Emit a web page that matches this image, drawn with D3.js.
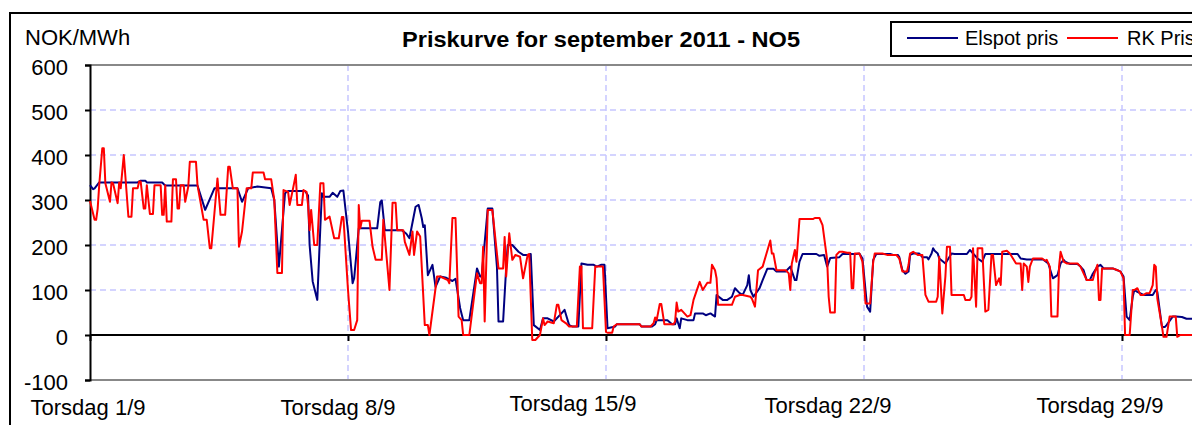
<!DOCTYPE html>
<html>
<head>
<meta charset="utf-8">
<title>Priskurve for september 2011 - NO5</title>
<script src="https://d3js.org/d3.v7.min.js"></script>
<style>
	html, body { margin: 0; padding: 0; background: #fff; }
	svg { display: block; font-family: "Liberation Sans", Arial, sans-serif; }
</style>
</head>
<body>
<div id="chart"></div>
<script>
// Hourly prices for september 2011 as [hour, NOK/MWh]
// hour 0 = 1/9 00:00, 720 = end of 30/9
const elspotPris = [
	[0,333],[2,324],[3,326],[6,339],[31,339],[33,343],[36,343],[37,339],[47,339],[49,332],[70,332],[75,278],
	[81,326],[96,326],[99,296],[103,326],[109,330],[118,326],[120,300],[123,152],[127,315],[129,320],[140,320],
	[142,310],[143,200],[145,119],[148,78],[150,240],[151,315],[152,307],[156,307],[158,316],[161,307],[163,320],
	[165,321],[168,230],[171,115],[172,126],[174,200],[175,237],[187,237],[189,295],[190,299],[192,233],[203,233],
	[206,225],[208,215],[212,285],[214,289],[216,260],[217,240],[218,244],[220,133],[223,156],[225,107],[228,130],
	[232,127],[236,120],[238,125],[241,60],[243,33],[247,33],[252,148],[254,130],[255,130],[259,281],[262,281],
	[265,150],[266,30],[269,30],[271,150],[272,200],[275,200],[279,185],[282,178],[285,178],[287,180],[289,22],
	[293,11],[295,37],[298,37],[302,30],[307,48],[309,56],[312,22],[314,19],[318,19],[320,159],[324,156],[328,156],
	[330,152],[333,156],[335,156],[337,15],[342,19],[343,24],[358,24],[359,19],[366,19],[368,24],[369,33],[376,33],
	[379,24],[381,24],[382,37],[384,15],[385,37],[389,33],[393,33],[394,48],[399,48],[401,44],[404,48],[407,41],
	[408,89],[412,78],[415,78],[418,85],[420,104],[423,93],[425,89],[428,111],[429,133],[430,100],[432,85],[436,104],
	[438,122],[441,147],[445,147],[447,141],[453,141],[456,152],[459,122],[460,122],[462,163],[464,180],[473,180],
	[475,176],[478,178],[480,152],[482,171],[488,173],[490,180],[499,180],[501,181],[503,170],[506,63],[508,52],
	[510,167],[512,180],[521,180],[523,178],[526,178],[527,173],[529,144],[531,136],[533,141],[534,178],[536,181],
	[540,181],[542,173],[545,173],[546,168],[548,181],[549,193],[550,187],[552,181],[553,170],[557,159],[559,170],
	[561,181],[563,180],[571,180],[573,189],[575,181],[578,170],[581,163],[583,180],[604,180],[606,170],[610,168],
	[620,168],[621,167],[624,159],[627,126],[630,133],[632,159],[634,167],[635,163],[638,158],[643,158],[645,152],
	[647,144],[649,122],[651,122],[653,136],[656,152],[658,156],[660,148],[666,148],[669,144],[671,141],[673,130],
	[675,41],[677,33],[679,85],[680,100],[682,96],[686,89],[692,89],[694,100],[695,96],[698,18],[700,18],[701,22],
	[705,41],[707,41],[711,40],[714,36],[720,36]
];

const rkPris = [
	[0,298],[3,256],[4,256],[5,281],[6,333],[8,415],[9,415],[10,337],[13,296],[14,339],[15,337],[18,293],[19,339],
	[20,326],[22,400],[25,263],[27,263],[28,326],[31,326],[32,341],[33,341],[35,281],[36,281],[37,333],[39,269],
	[41,269],[42,333],[46,333],[47,267],[48,267],[49,333],[50,252],[53,252],[54,346],[56,346],[57,281],[58,281],
	[59,333],[61,333],[62,296],[64,330],[65,385],[69,385],[70,333],[74,256],[76,256],[78,193],[79,193],[81,270],
	[83,348],[85,267],[88,267],[90,374],[91,374],[93,326],[96,326],[97,196],[99,230],[102,326],[105,326],[106,361],
	[113,361],[114,346],[118,346],[120,300],[122,138],[125,138],[126,322],[129,318],[130,289],[132,322],[134,356],
	[135,289],[138,289],[139,322],[141,318],[142,289],[143,233],[144,278],[146,200],[148,200],[150,337],[152,337],
	[153,256],[156,263],[159,215],[162,215],[164,262],[165,262],[168,100],[170,11],[172,11],[174,33],[175,289],
	[176,237],[177,254],[182,254],[184,196],[186,167],[190,167],[191,256],[195,100],[197,294],[199,294],[200,233],
	[204,233],[205,207],[208,178],[210,230],[211,178],[213,230],[215,219],[218,22],[220,22],[221,0],[226,130],
	[228,130],[233,122],[234,115],[236,260],[238,260],[240,41],[242,33],[243,0],[247,0],[252,137],[254,115],
	[255,115],[256,196],[257,30],[259,278],[262,278],[266,148],[269,148],[270,218],[271,130],[273,226],[275,167],
	[277,178],[280,174],[282,126],[285,178],[286,180],[288,-11],[290,-11],[293,0],[295,37],[296,22],[298,30],
	[302,26],[304,67],[305,67],[307,33],[310,26],[312,19],[317,19],[319,152],[320,152],[321,15],[327,15],[329,152],
	[334,152],[336,7],[337,5],[340,5],[341,19],[343,24],[358,24],[359,19],[365,19],[367,26],[368,39],[369,33],
	[371,69],[372,69],[374,24],[380,24],[381,30],[382,72],[383,52],[385,56],[389,41],[391,44],[393,78],[397,118],
	[399,100],[402,116],[404,116],[405,156],[407,144],[408,126],[409,67],[418,67],[420,85],[423,89],[425,89],
	[430,85],[431,81],[433,63],[435,144],[438,152],[443,210],[444,181],[445,181],[447,144],[453,144],[455,137],
	[456,100],[457,159],[459,189],[460,163],[462,258],[471,258],[472,260],[475,260],[477,244],[480,167],[481,85],
	[482,50],[485,50],[486,178],[488,185],[490,185],[493,183],[495,183],[496,104],[497,104],[498,181],[501,181],
	[503,163],[505,70],[508,70],[510,163],[511,181],[516,181],[519,178],[525,178],[527,170],[529,141],[532,141],
	[533,156],[534,181],[536,185],[539,178],[542,178],[544,89],[546,74],[551,74],[552,85],[553,174],[555,48],
	[557,130],[558,196],[560,196],[561,89],[569,89],[570,78],[573,78],[574,85],[575,193],[577,63],[578,193],
	[581,193],[583,52],[585,56],[587,178],[588,178],[590,111],[592,126],[593,111],[594,185],[597,187],[599,181],
	[601,170],[603,159],[606,159],[607,100],[608,159],[610,152],[611,118],[612,152],[614,170],[620,170],[622,165],
	[623,167],[625,152],[626,41],[630,41],[631,152],[632,185],[634,163],[636,159],[643,159],[645,152],[647,137],
	[649,122],[653,122],[654,136],[656,156],[657,78],[658,78],[659,148],[666,148],[669,144],[671,141],[673,126],
	[674,0],[677,0],[679,100],[680,100],[682,104],[684,89],[686,89],[688,93],[690,93],[692,111],[693,156],
	[694,152],[695,81],[698,19],[699,-4],[701,-4],[703,41],[707,41],[708,-4],[710,0],[720,0]
];

// Axis ticks
const weekTickHours = [0, 168, 336, 504, 672];
const weekTickLabels = ["Torsdag 1/9", "Torsdag 8/9", "Torsdag 15/9", "Torsdag 22/9", "Torsdag 29/9"];
const yTicks = [-100, 0, 100, 200, 300, 400, 500, 600];

const seriesNames = ["Elspot pris", "RK Pris"];
const seriesColors = ["#000080", "#ff0000"];

const W = 1192, H = 425;
const plot = {left: 90, top: 65, bottom: 380};
const hourPx = 258 / 168;

const svg = d3.select("#chart")
	.append("svg")
	.attr("width", W)
	.attr("height", H);

svg.append("rect")
	.attr("width", W).attr("height", H)
	.attr("fill", "#fff");

// Outer chart frame (right and bottom edges fall outside the picture)
svg.append("rect")
	.attr("x", 10).attr("y", 13)
	.attr("width", 1300).attr("height", 500)
	.attr("fill", "none")
	.attr("stroke", "#000")
	.attr("stroke-width", 2);

// Scales
const x = d3.scaleLinear()
	.domain([0, 720])
	.range([plot.left, plot.left + 720 * hourPx]);

const y = d3.scaleLinear()
	.domain([-100, 600])
	.range([plot.bottom, plot.top]);

const right = x(720);

// Grid lines
const gridColor = "#c6c6ff";
svg.append("g")
	.selectAll("line")
	.data(yTicks.filter(d => d > 0 && d < 600))
	.enter()
	.append("line")
	.attr("x1", plot.left).attr("x2", right)
	.attr("y1", d => y(d)).attr("y2", d => y(d))
	.attr("stroke", gridColor)
	.attr("stroke-width", 1.5)
	.attr("stroke-dasharray", "6,4");

svg.append("g")
	.selectAll("line")
	.data(weekTickHours.slice(1))
	.enter()
	.append("line")
	.attr("x1", d => x(d)).attr("x2", d => x(d))
	.attr("y1", plot.top).attr("y2", plot.bottom)
	.attr("stroke", gridColor)
	.attr("stroke-width", 1.5)
	.attr("stroke-dasharray", "6,4");

// Plot area top and bottom edges
svg.append("line")
	.attr("x1", plot.left).attr("x2", right)
	.attr("y1", plot.top).attr("y2", plot.top)
	.attr("stroke", "#888").attr("stroke-width", 2);
svg.append("line")
	.attr("x1", plot.left).attr("x2", right)
	.attr("y1", plot.bottom).attr("y2", plot.bottom)
	.attr("stroke", "#888").attr("stroke-width", 2);

// Y axis
const yAxis = d3.axisLeft(y)
	.tickValues(yTicks)
	.tickSize(5)
	.tickPadding(17)
	.tickFormat(d => String(d));

const yg = svg.append("g")
	.attr("transform", `translate(${plot.left},0)`)
	.call(yAxis);
yg.select(".domain").attr("stroke", "#000").attr("stroke-width", 2);
yg.selectAll(".tick line").attr("stroke", "#000").attr("stroke-width", 2);
yg.selectAll(".tick text")
	.attr("dy", "0.45em")
	.attr("fill", "#000")
	.style("font-size", "22px")
	.style("font-family", "'Liberation Sans', Arial, sans-serif");

// X axis along the zero line
const xAxis = d3.axisBottom(x)
	.tickValues(weekTickHours)
	.tickSize(6)
	.tickFormat("");

const xg = svg.append("g")
	.attr("transform", `translate(0,${y(0)})`)
	.call(xAxis);
xg.select(".domain").attr("stroke", "#000").attr("stroke-width", 2)
	.attr("d", `M${plot.left},0H${right}`);
xg.selectAll(".tick line").attr("stroke", "#000").attr("stroke-width", 2);

// Week labels sit below the plot, nudged the way the original places them
const labelShift = [[-2, 415], [-10, 415], [-33, 411], [-36, 413], [-22, 413]];
svg.append("g")
	.selectAll("text")
	.data(weekTickLabels)
	.enter()
	.append("text")
	.attr("x", (d, i) => x(weekTickHours[i]) + labelShift[i][0])
	.attr("y", (d, i) => labelShift[i][1])
	.attr("text-anchor", "middle")
	.style("font-size", "22px")
	.text(d => d);

// Series
const line = d3.line()
	.x(d => x(d[0]))
	.y(d => y(d[1]));

[elspotPris, rkPris].forEach((data, i) => {
	svg.append("path")
		.datum(data)
		.attr("fill", "none")
		.attr("stroke", seriesColors[i])
		.attr("stroke-width", 2)
		.attr("stroke-linejoin", "round")
		.attr("d", line);
});

// Titles
svg.append("text")
	.attr("x", 25).attr("y", 45)
	.style("font-size", "22px")
	.text("NOK/MWh");

svg.append("text")
	.attr("x", 402).attr("y", 47)
	.attr("textLength", 398)
	.attr("lengthAdjust", "spacingAndGlyphs")
	.style("font-size", "22px")
	.style("font-weight", "bold")
	.text("Priskurve for september 2011 - NO5");

// Legend
const legend = svg.append("g");
legend.append("rect")
	.attr("x", 891).attr("y", 22)
	.attr("width", 400).attr("height", 34)
	.attr("fill", "#fff")
	.attr("stroke", "#000")
	.attr("stroke-width", 2);

const legendX = [[907, 965], [1067, 1127]];
seriesNames.forEach((name, i) => {
	legend.append("line")
		.attr("x1", legendX[i][0]).attr("x2", legendX[i][0] + 51)
		.attr("y1", 38).attr("y2", 38)
		.attr("stroke", seriesColors[i])
		.attr("stroke-width", 2);
	legend.append("text")
		.attr("x", legendX[i][1]).attr("y", 45)
		.style("font-size", "20px")
		.text(name);
});
</script>
</body>
</html>
